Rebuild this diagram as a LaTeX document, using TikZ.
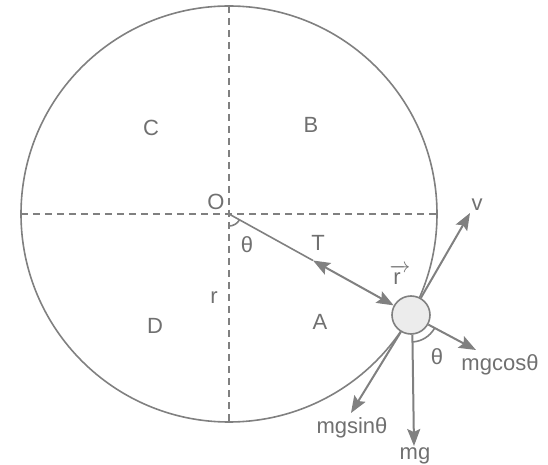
\documentclass[tikz,border=0pt]{standalone}
\usepackage{fontspec}
\usepackage{amsmath}
\setmainfont{Liberation Sans}
\usetikzlibrary{arrows.meta,positioning,calc}
\definecolor{ink}{RGB}{128,128,128}
\definecolor{txt}{RGB}{112,112,112}
\definecolor{ballfill}{RGB}{236,236,236}

\begin{document}
\begin{tikzpicture}[x=1pt, y=1pt,
    line/.style={draw=ink, line width=1.6pt},
    dsh/.style={draw=ink, line width=1.4pt, dash pattern=on 7pt off 5pt},
    arr/.style={line, line width=2pt, -{Stealth[length=17pt, width=13pt, inset=3pt]}},
    lbl/.style={text=txt, font=\fontsize{22}{25}\selectfont, inner sep=1pt}]
    \useasboundingbox (-229,-251) rectangle (319,214);

    % circle and quadrants
    \coordinate (O) at (0,0);
    \draw[line] (O) circle[radius=208];
    \draw[dsh] (-208,0) -- (208,0);
    \draw[dsh] (0,208) -- (0,-208);
    \node[lbl] (lO) at (-13,12) {O};
    \node[lbl] (lC) at (-78,86) {C};
    \node[lbl] (lB) at (82,89) {B};
    \node[lbl] (lD) at (-74,-112) {D};
    \node[lbl] (lA) at (91,-108) {A};
    \node[lbl] (lr) at (-15,-84) {r};

    % string and ball
    \node[circle, draw=ink, line width=1.6pt, fill=ballfill, minimum size=38pt, inner sep=0pt] (ball) at (182,-101) {};
    \coordinate (tmid) at (84,-46.5);
    \draw[line] (O) -- (tmid);
    \draw[line, line width=2pt, {Stealth[length=17pt, width=13pt, inset=3pt]}-{Stealth[length=17pt, width=13pt, inset=3pt]}] (tmid) -- (ball);
    \draw[line] (0,-12) arc[start angle=-90, end angle=-29, radius=12];
    \node[lbl] (ltheta) at (18,-31) {θ};
    \node[lbl] (lT) at (89,-29) {T};
    \node[lbl] (lrvec) at (171,-61) {$\overrightarrow{\text{r}\;}$};

    % forces on the ball
    \coordinate (vend) at (241,1);
    \coordinate (cosend) at (247,-136);
    \coordinate (mgend) at (185,-232);
    \coordinate (sinend) at (122,-199);
    \draw[arr] (ball.60) -- (vend);
    \draw[arr] (ball.-29) -- (cosend);
    \draw[arr] (ball.-86) -- (mgend);
    \draw[arr] (ball.-121) -- (sinend);
    \draw[line] ($(ball.center)+(-86:27)$) arc[start angle=-86, end angle=-29, radius=27];
    \node[lbl] (lv) at (248,9) {v};
    \node[lbl] (lcos) at (271,-151) {mgcosθ};
    \node[lbl] (lth2) at (208,-143) {θ};
    \node[lbl] (lmg) at (186,-242) {mg};
    \node[lbl] (lsin) at (123,-214) {mgsinθ};
\end{tikzpicture}
\end{document}
